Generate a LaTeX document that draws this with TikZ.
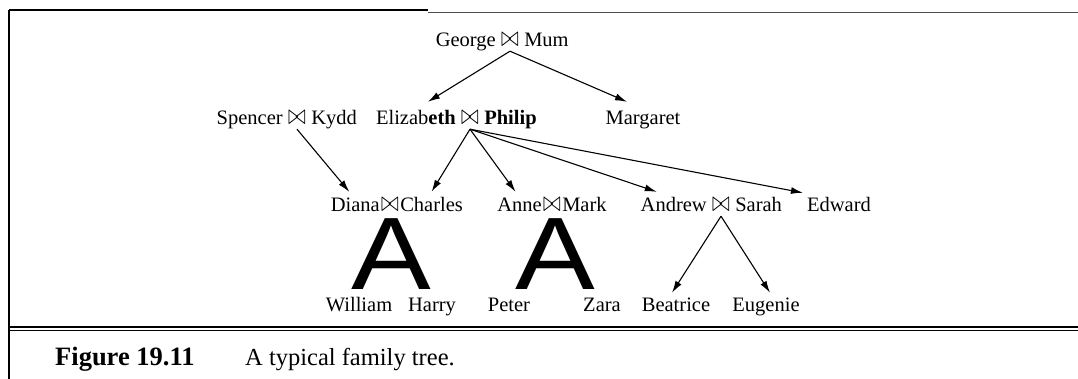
\documentclass[tikz,border=0pt]{standalone}
\usepackage{fontspec}
\setmainfont{Liberation Serif}
\newfontfamily\bigsans{Liberation Sans}
\usetikzlibrary{arrows.meta,positioning,calc}
\newcommand{\joinmark}{\scalebox{1.05}[1.4]{$\bowtie$}}
\tikzset{
  person/.style={inner sep=0pt, text height=14pt, text depth=4.5pt, font=\fontsize{20.5}{24}\selectfont},
  joinsym/.style={inner sep=0pt, text height=14pt, text depth=4pt, anchor=base, font=\fontsize{20.5}{24}\selectfont},
  bigA/.style={inner sep=0pt, anchor=base, font=\bigsans\fontsize{103}{110}\selectfont},
  arrow/.style={-{Latex[length=12pt,width=7pt]}, line width=1.1pt},
  rule/.style={line width=1.2pt},
  caption/.style={inner sep=0pt, anchor=base west, font=\fontsize{24.5}{28}\selectfont}
}
\begin{document}
\begin{tikzpicture}[x=1pt,y=-1pt]
  \useasboundingbox (0,0) rectangle (1078,379);
  \draw[rule] (9,10) -- (428,10);
  \draw[rule, gray!60!black, line width=1.8pt] (428,12.5) -- (1078,12.5);
  \draw[rule] (9,10) -- (9,379);
  \draw[rule] (9,327) -- (1078,327);
  \draw[rule] (9,330.5) -- (1078,330.5);
  \node[joinsym] (gmJ) at (510,47) {\joinmark};
  \node[person, base left=5pt of gmJ] (george) {George};
  \node[person, base right=5pt of gmJ] (mum) {Mum};
  \node[joinsym] (skJ) at (297,125) {\joinmark};
  \node[person, base left=5pt of skJ] (spencer) {Spencer};
  \node[person, base right=5pt of skJ] (kydd) {Kydd};
  \node[joinsym] (epJ) at (470,125) {\joinmark};
  \node[person, base left=5pt of epJ] (eliz) {Elizab\textbf{eth}};
  \node[person, base right=5pt of epJ] (philip) {\bfseries Philip};
  \node[person, anchor=base] (margaret) at (643,125) {Margaret};
  \node[joinsym] (dcJ) at (390,212) {\joinmark};
  \node[person, base left=1pt of dcJ] (diana) {Diana};
  \node[person, base right=1pt of dcJ] (charles) {Charles};
  \node[joinsym] (amJ) at (552,212) {\joinmark};
  \node[person, base left=1pt of amJ] (anne) {Anne};
  \node[person, base right=1pt of amJ] (mark) {Mark};
  \node[joinsym] (asJ) at (721,212) {\joinmark};
  \node[person, base left=5pt of asJ] (andrew) {Andrew};
  \node[person, base right=5pt of asJ] (sarah) {Sarah};
  \node[person, anchor=base] (edward) at (839,212) {Edward};
  \node[bigA] (aDC) at (391,289) {\scalebox{1.16}[1]{A}};
  \node[bigA] (aAM) at (555,289) {\scalebox{1.16}[1]{A}};
  \node[person, anchor=base] (william) at (359,311) {William};
  \node[person, anchor=base] (harry) at (432,311) {Harry};
  \node[person, anchor=base] (peter) at (509,311) {Peter};
  \node[person, anchor=base] (zara) at (602,311) {Zara};
  \node[person, anchor=base] (beatrice) at (676,311) {Beatrice};
  \node[person, anchor=base] (eugenie) at (766,311) {Eugenie};
  \draw[arrow] (gmJ.south) -- ($(eliz.north)+(12,-9)$);
  \draw[arrow] (gmJ.south) -- ($(margaret.north)+(-16,-9)$);
  \draw[arrow] (skJ.south) -- ($(diana.north)+(-6,-6)$);
  \draw[arrow] (epJ.south) -- ($(charles.north)+(0,-6)$);
  \draw[arrow] (epJ.south) -- ($(anne.north)+(-4,-6)$);
  \draw[arrow] (epJ.south) -- ($(andrew.north)+(-17,-6)$);
  \draw[arrow] (epJ.south) -- ($(edward.north west)+(-4,-5)$);
  \draw[arrow] (asJ.south) -- ($(beatrice.north)+(-4,-4)$);
  \draw[arrow] (asJ.south) -- ($(eugenie.north)+(4,-4)$);
  \node[caption, font=\bfseries\fontsize{26.5}{30}\selectfont] (fignum) at (55,365) {Figure 19.11};
  \node[caption] (figtext) at (245,365) {A typical family tree.};
\end{tikzpicture}
\end{document}
